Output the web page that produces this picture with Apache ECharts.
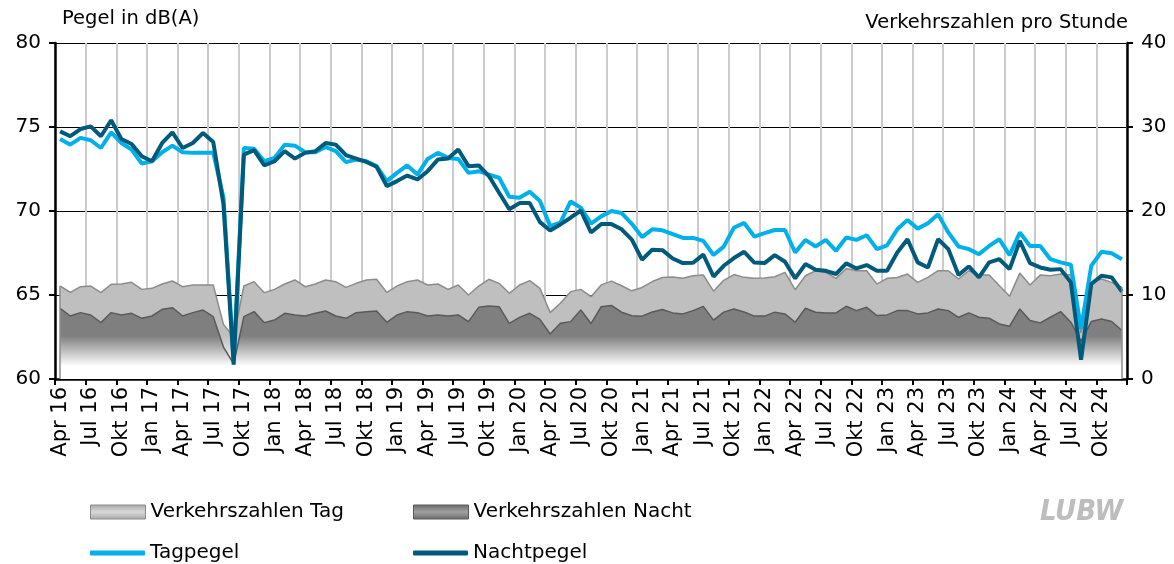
<!DOCTYPE html>
<html>
<head>
<meta charset="utf-8">
<script src="https://cdn.jsdelivr.net/npm/echarts@6/dist/echarts.min.js"></script>
<style>
html,body{margin:0;padding:0;background:#fff;}
#chart{width:1174px;height:564px;}
</style>
</head>
<body>
<div id="chart"></div>
<script>
// Months Apr 2016 .. Dez 2024 (105 months)
const monthNames = ['Jan','Feb','Mär','Apr','Mai','Jun','Jul','Aug','Sep','Okt','Nov','Dez'];
const categories = [];
for (let y = 2016; y <= 2024; y++) {
  for (let m = 0; m < 12; m++) {
    if (y === 2016 && m < 3) continue;
    categories.push(monthNames[m] + ' ' + String(y).slice(2));
  }
}

// Tagpegel in dB(A)
const tagpegel = [
  74.29,73.95,74.35,74.21,73.75,74.68,74.05,73.66,72.83,72.96,73.50,73.89,
  73.50,73.46,73.46,73.46,70.8,61.1,73.75,73.70,72.96,73.16,73.95,73.89,
  73.50,73.50,73.81,73.56,72.91,73.06,72.96,72.67,71.78,72.27,72.71,72.17,
  73.10,73.46,73.16,73.10,72.27,72.37,72.17,71.98,70.85,70.79,71.15,70.59,
  69.10,69.31,70.57,70.20,69.25,69.68,70.00,69.88,69.24,68.45,68.91,68.85,
  68.62,68.40,68.40,68.22,67.38,67.88,69.00,69.29,68.48,68.68,68.87,68.87,
  67.53,68.28,67.89,68.28,67.63,68.42,68.28,68.56,67.73,67.96,68.91,69.47,
  68.95,69.27,69.80,68.72,67.89,67.73,67.43,67.92,68.32,67.37,68.72,67.92,
  67.92,67.13,66.94,66.80,63.00,66.74,67.57,67.49,67.13
];
// Nachtpegel in dB(A)
const nachtpegel = [
  74.74,74.45,74.88,75.04,74.45,75.40,74.29,73.99,73.26,72.96,74.05,74.68,
  73.75,74.05,74.64,74.11,70.40,60.85,73.36,73.62,72.71,72.96,73.56,73.12,
  73.46,73.56,74.05,73.95,73.32,73.12,72.92,72.63,71.48,71.78,72.11,71.88,
  72.37,73.06,73.12,73.66,72.67,72.71,72.08,71.09,70.10,70.47,70.47,69.34,
  68.84,69.20,69.60,70.03,68.72,69.22,69.22,68.91,68.30,67.10,67.70,67.67,
  67.17,66.90,66.92,67.40,66.10,66.74,67.20,67.57,66.93,66.90,67.37,66.98,
  65.99,66.84,66.50,66.44,66.25,66.88,66.58,66.78,66.44,66.44,67.53,68.32,
  66.94,66.64,68.32,67.73,66.19,66.70,66.05,66.94,67.13,66.54,68.22,66.90,
  66.64,66.50,66.54,65.75,61.15,65.65,66.15,66.05,65.20
];
// Verkehrszahlen Tag (pro Stunde)
const verkehrTag = [
  11.07,10.32,10.99,11.07,10.28,11.27,11.31,11.51,10.67,10.79,11.31,11.67,
  10.99,11.19,11.19,11.19,6.5,5.0,11.07,11.59,10.28,10.67,11.31,11.79,
  10.99,11.31,11.79,11.59,10.91,11.39,11.79,11.87,10.30,11.07,11.59,11.79,
  11.19,11.31,10.67,11.19,10.00,11.07,11.87,11.39,10.20,11.19,11.71,10.79,
  7.90,9.01,10.40,10.67,9.80,11.20,11.65,11.10,10.50,10.90,11.60,12.08,
  12.13,12.00,12.30,12.38,10.45,11.75,12.43,12.10,12.00,12.03,12.17,12.69,
  10.63,12.29,12.89,12.69,11.98,13.16,12.89,12.89,11.30,11.98,12.09,12.49,
  11.50,12.09,12.89,12.89,11.90,12.89,12.37,12.37,11.11,9.84,12.61,11.19,
  12.37,12.29,12.49,12.37,5.5,11.50,11.90,11.50,10.91
];
// Verkehrszahlen Nacht (pro Stunde)
const verkehrNacht = [
  8.41,7.50,7.90,7.62,6.71,7.90,7.62,7.82,7.22,7.50,8.29,8.49,
  7.50,7.90,8.21,7.42,3.8,1.8,7.42,8.02,6.71,7.02,7.82,7.62,
  7.50,7.82,8.10,7.50,7.22,7.90,8.02,8.10,6.75,7.62,8.02,7.90,
  7.50,7.62,7.50,7.62,6.83,8.53,8.69,8.61,6.63,7.34,7.82,7.10,
  5.36,6.63,6.83,8.21,6.60,8.60,8.75,7.95,7.52,7.48,7.98,8.28,
  7.87,7.75,8.14,8.64,7.01,7.96,8.34,7.98,7.49,7.49,7.96,7.75,
  6.76,8.42,7.94,7.87,7.87,8.66,8.14,8.54,7.55,7.63,8.14,8.14,
  7.75,7.87,8.34,8.14,7.35,7.87,7.35,7.23,6.56,6.28,8.34,6.96,
  6.68,7.35,8.02,6.76,4.5,6.84,7.15,6.84,5.77
];
const leftTicks = [60, 80, 5];   // min, max, interval
const rightTicks = [0, 40, 10];

const FONT = 'DejaVu Sans';
const chart = echarts.init(document.getElementById('chart'), null, {renderer: 'canvas'});

function fade(color) {
  return {type: 'linear', x: 0, y: 336, x2: 0, y2: 366, global: true,
    colorStops: [{offset: 0, color: color}, {offset: 1, color: '#ffffff'}]};
}
function iconGrad(c1, c2) {
  return {type: 'linear', x: 0, y: 0, x2: 0, y2: 1,
    colorStops: [{offset: 0, color: c1}, {offset: 0.5, color: c2}, {offset: 1, color: c1}]};
}
const every3 = (idx) => idx % 3 === 0;
const n = categories.length - 1;

const legendText = {fontSize: 20, fontFamily: FONT, color: '#000'};

chart.setOption({
  animation: false,
  backgroundColor: '#fff',
  grid: {left: 55, right: 47, top: 43, bottom: 185, containLabel: false},
  graphic: [
    {type: 'text', left: 62, top: 9, style: {text: 'Pegel in dB(A)', font: '19.5px "DejaVu Sans"', fill: '#000'}},
    {type: 'text', right: 46, top: 13, style: {text: 'Verkehrszahlen pro Stunde', font: '19.5px "DejaVu Sans"', fill: '#000'}},
    {type: 'text', left: 1040, top: 498, style: {text: 'LUBW', font: 'italic bold 29px "DejaVu Sans Condensed", "DejaVu Sans"', fill: '#bdbdbd'}}
  ],
  legend: [
    {left: 85, top: 497, itemWidth: 55, itemHeight: 14, textStyle: legendText,
      data: [{name: 'Verkehrszahlen Tag', icon: 'rect', itemStyle: {color: iconGrad('#a8a8a8', '#d8d8d8'), borderColor: '#8a8a8a', borderWidth: 1}}]},
    {left: 408, top: 497, itemWidth: 55, itemHeight: 14, textStyle: legendText,
      data: [{name: 'Verkehrszahlen Nacht', icon: 'rect', itemStyle: {color: iconGrad('#6a6a6a', '#a0a0a0'), borderColor: '#5a5a5a', borderWidth: 1}}]},
    {left: 85, top: 538, itemWidth: 55, itemHeight: 5, textStyle: legendText,
      data: [{name: 'Tagpegel', icon: 'roundRect', itemStyle: {color: '#00b0ea'}}]},
    {left: 408, top: 538, itemWidth: 55, itemHeight: 5, textStyle: legendText,
      data: [{name: 'Nachtpegel', icon: 'roundRect', itemStyle: {color: '#005a7c'}}]}
  ],
  xAxis: {
    type: 'category', data: categories, boundaryGap: true,
    axisLine: {lineStyle: {color: '#000', width: 2.5}},
    axisTick: {show: true, interval: (i) => every3(i), length: 6, lineStyle: {color: '#000', width: 2}},
    axisLabel: {interval: (i) => every3(i), rotate: 90, fontSize: 21, fontFamily: FONT, color: '#000', margin: 8},
    splitLine: {show: true, interval: (i) => every3(i), lineStyle: {color: '#cbcbcb', width: 2}}
  },
  yAxis: [
    {type: 'value', min: leftTicks[0], max: leftTicks[1], interval: leftTicks[2], position: 'left',
      axisLine: {show: true, lineStyle: {color: '#000', width: 2.5}},
      axisTick: {show: true, length: 6, lineStyle: {color: '#000', width: 2}},
      axisLabel: {fontSize: 20, fontFamily: FONT, color: '#000', margin: 14},
      splitLine: {show: true, lineStyle: {color: '#000', width: 1.2}}},
    {type: 'value', min: rightTicks[0], max: rightTicks[1], interval: rightTicks[2], position: 'right',
      axisLine: {show: true, lineStyle: {color: '#000', width: 2.5}},
      axisTick: {show: true, length: 6, lineStyle: {color: '#000', width: 2}},
      axisLabel: {fontSize: 20, fontFamily: FONT, color: '#000', margin: 14},
      splitLine: {show: false}}
  ],
  series: [
    {name: 'Verkehrszahlen Tag', type: 'line', yAxisIndex: 1, data: verkehrTag,
      symbol: 'none', z: 1,
      lineStyle: {color: '#8c8c8c', width: 1.5},
      itemStyle: {color: '#bfbfbf'},
      areaStyle: {color: fade('#bfbfbf'), opacity: 1},
      markLine: {silent: true, symbol: 'none', label: {show: false},
        lineStyle: {color: '#8c8c8c', width: 1.5, type: 'solid'},
        data: [
          [{coord: [categories[0], 0]}, {coord: [categories[0], verkehrTag[0]]}],
          [{coord: [categories[n], 0]}, {coord: [categories[n], verkehrTag[n]]}]
        ]}},
    {name: 'Verkehrszahlen Nacht', type: 'line', yAxisIndex: 1, data: verkehrNacht,
      symbol: 'none', z: 2,
      lineStyle: {color: '#5a5a5a', width: 1.5},
      itemStyle: {color: '#7f7f7f'},
      areaStyle: {color: fade('#7f7f7f'), opacity: 1}},
    {name: 'Tagpegel', type: 'line', yAxisIndex: 0, data: tagpegel,
      symbol: 'none', z: 3,
      lineStyle: {color: '#00b0ea', width: 4},
      itemStyle: {color: '#00b0ea'}},
    {name: 'Nachtpegel', type: 'line', yAxisIndex: 0, data: nachtpegel,
      symbol: 'none', z: 4,
      lineStyle: {color: '#005a7c', width: 4},
      itemStyle: {color: '#005a7c'}}
  ]
});
</script>
</body>
</html>
